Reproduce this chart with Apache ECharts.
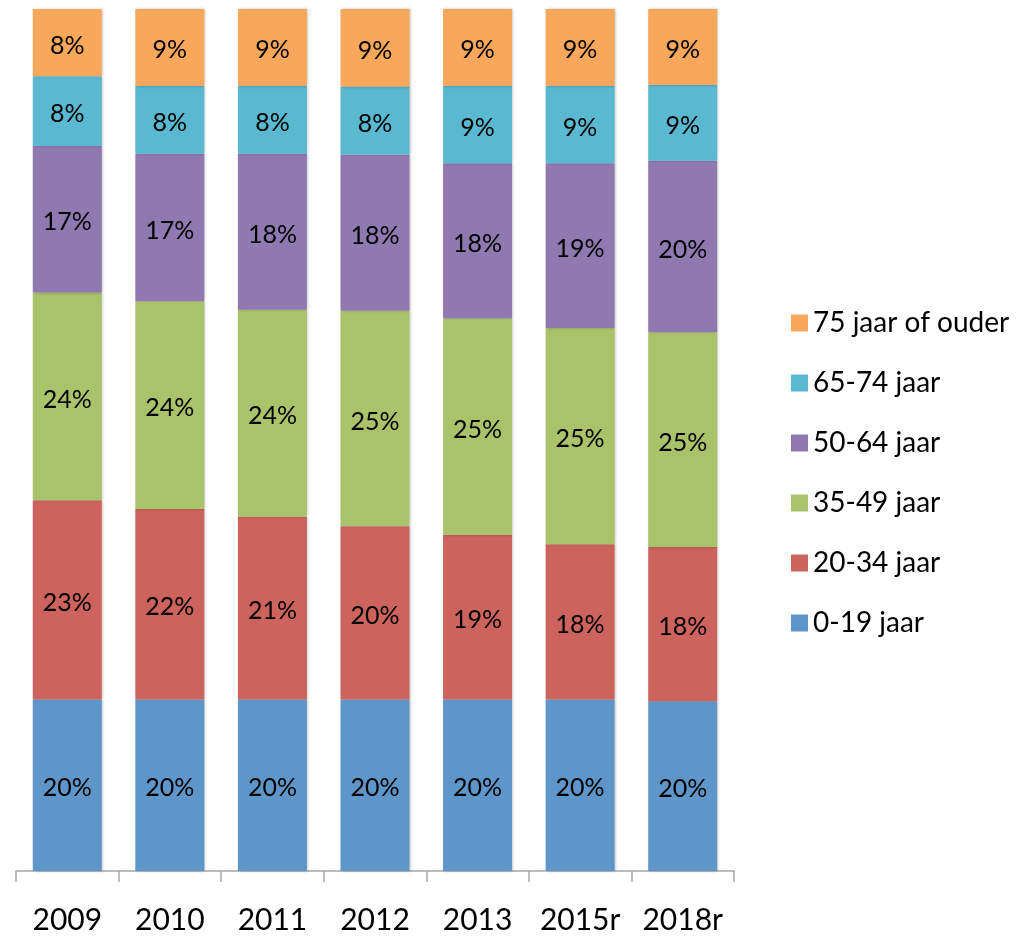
<!DOCTYPE html>
<html>
<head>
<meta charset="utf-8">
<script src="https://cdn.jsdelivr.net/npm/echarts@6/dist/echarts.min.js"></script>
<style>
  html, body { margin: 0; padding: 0; background: #fff; }
  #chart { width: 1036px; height: 937px; }
</style>
</head>
<body>
<div id="chart"></div>
<script>
// jaren
const years = ['2009', '2010', '2011', '2012', '2013', '2015r', '2018r'];
// leeftijdsgroepen (onder naar boven)
const groups = ['0-19 jaar', '20-34 jaar', '35-49 jaar', '50-64 jaar', '65-74 jaar', '75 jaar of ouder'];
const colors = ['#5f96c9', '#cc635d', '#a9c36a', '#9079b0', '#5ab8d0', '#f9a75a'];

// aandelen in procenten, per groep
const age0_19   = [19.9, 19.9, 19.9, 19.9, 19.9, 19.9, 19.7];
const age20_34  = [23.1, 22.1, 21.2, 20.1, 19.1, 18.0, 17.9];
const age35_49  = [24.1, 24.1, 24.0, 25.0, 25.1, 25.1, 24.9];
const age50_64  = [17.0, 17.1, 18.1, 18.1, 18.0, 19.1, 19.9];
const age65_74  = [8.1, 7.9, 7.9, 7.9, 9.0, 9.0, 8.8];
const age75plus = [7.8, 8.9, 8.9, 9.0, 8.9, 8.9, 8.8];

const seriesData = [age0_19, age20_34, age35_49, age50_64, age65_74, age75plus];
const fontFam = 'Lato, "Open Sans", sans-serif';

let chart = echarts.init(document.getElementById('chart'));

let series = groups.map((name, i) => ({
    name: name,
    type: 'bar',
    stack: 'totaal',
    barWidth: 69,
    data: seriesData[i],
    itemStyle: {
        color: colors[i],
        shadowColor: 'rgba(0,0,0,0.25)',
        shadowBlur: 3,
        shadowOffsetX: 1
    },
    label: {
        show: true,
        position: 'inside',
        offset: [0, 3],
        color: '#000',
        fontSize: 25,
        fontFamily: fontFam,
        formatter: p => Math.round(p.value) + '%'
    }
}));

chart.setOption({
    animation: false,
    grid: { left: 16, right: 302, top: 9, bottom: 66 },
    legend: {
        orient: 'vertical',
        left: 786,
        top: 304,
        data: groups.slice().reverse(),
        icon: 'rect',
        itemWidth: 17,
        itemHeight: 17,
        itemGap: 32,
        textStyle: {
            fontSize: 28,
            lineHeight: 28,
            color: '#000',
            fontFamily: fontFam
        }
    },
    xAxis: {
        type: 'category',
        data: years,
        boundaryGap: true,
        axisLine: { show: true, lineStyle: { color: '#a6a6a6', width: 1.5 } },
        axisTick: { show: true, interval: 0, alignWithLabel: false, inside: false, length: 11, lineStyle: { color: '#a6a6a6', width: 1.5 } },
        axisLabel: {
            interval: 0,
            color: '#000',
            fontSize: 30,
            fontFamily: fontFam,
            margin: 34
        }
    },
    yAxis: {
        type: 'value',
        min: 0,
        max: 100,
        show: false
    },
    series: series
});
</script>
</body>
</html>
